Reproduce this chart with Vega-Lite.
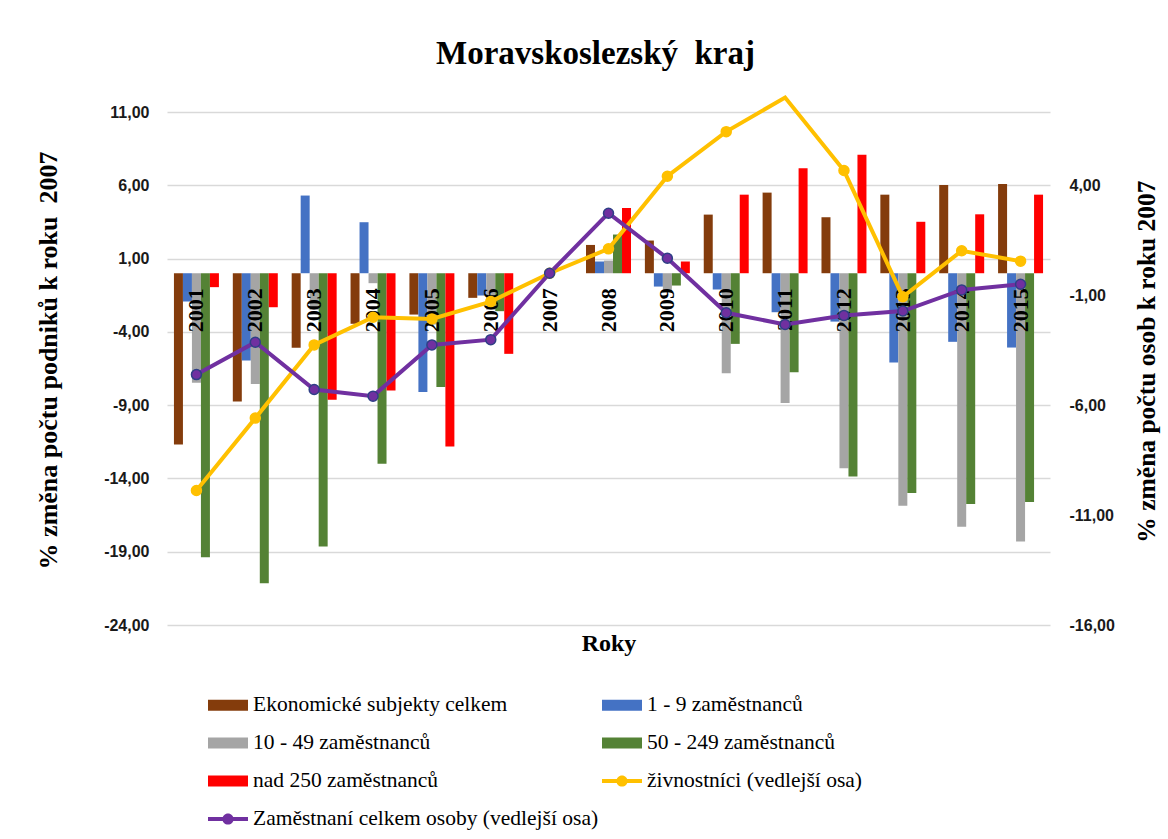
{
  "$schema": "https://vega.github.io/schema/vega-lite/v6.json",
  "width": 883,
  "height": 513,
  "autosize": {"type": "none"},
  "padding": {"left": 167, "top": 112, "right": 118, "bottom": 214},
  "background": "white",
  "title": {
    "text": "Moravskoslezský\u00a0 kraj",
    "font": "Liberation Serif",
    "fontSize": 33,
    "fontWeight": "bold",
    "color": "#000000",
    "anchor": "middle",
    "offset": 19,
    "dx": -13
  },
  "datasets": {
    "bars": [
      {"year": "2001", "series": "Ekonomické subjekty celkem", "value": -11.69},
      {"year": "2001", "series": "1 - 9 zaměstnanců", "value": -1.93},
      {"year": "2001", "series": "10 - 49 zaměstnanců", "value": -7.48},
      {"year": "2001", "series": "50 - 249 zaměstnanců", "value": -19.37},
      {"year": "2001", "series": "nad 250 zaměstnanců", "value": -0.95},
      {"year": "2002", "series": "Ekonomické subjekty celkem", "value": -8.75},
      {"year": "2002", "series": "1 - 9 zaměstnanců", "value": -5.96},
      {"year": "2002", "series": "10 - 49 zaměstnanců", "value": -7.55},
      {"year": "2002", "series": "50 - 249 zaměstnanců", "value": -21.15},
      {"year": "2002", "series": "nad 250 zaměstnanců", "value": -2.32},
      {"year": "2003", "series": "Ekonomické subjekty celkem", "value": -5.09},
      {"year": "2003", "series": "1 - 9 zaměstnanců", "value": 5.3},
      {"year": "2003", "series": "10 - 49 zaměstnanců", "value": -2.5},
      {"year": "2003", "series": "50 - 249 zaměstnanců", "value": -18.64},
      {"year": "2003", "series": "nad 250 zaměstnanců", "value": -8.64},
      {"year": "2004", "series": "Ekonomické subjekty celkem", "value": -3.45},
      {"year": "2004", "series": "1 - 9 zaměstnanců", "value": 3.48},
      {"year": "2004", "series": "10 - 49 zaměstnanců", "value": -0.68},
      {"year": "2004", "series": "50 - 249 zaměstnanců", "value": -13.0},
      {"year": "2004", "series": "nad 250 zaměstnanců", "value": -8.0},
      {"year": "2005", "series": "Ekonomické subjekty celkem", "value": -2.82},
      {"year": "2005", "series": "1 - 9 zaměstnanců", "value": -8.11},
      {"year": "2005", "series": "10 - 49 zaměstnanců", "value": -3.5},
      {"year": "2005", "series": "50 - 249 zaměstnanců", "value": -7.77},
      {"year": "2005", "series": "nad 250 zaměstnanců", "value": -11.82},
      {"year": "2006", "series": "Ekonomické subjekty celkem", "value": -1.68},
      {"year": "2006", "series": "1 - 9 zaměstnanců", "value": -1.52},
      {"year": "2006", "series": "10 - 49 zaměstnanců", "value": -2.5},
      {"year": "2006", "series": "50 - 249 zaměstnanců", "value": -2.59},
      {"year": "2006", "series": "nad 250 zaměstnanců", "value": -5.5},
      {"year": "2007", "series": "Ekonomické subjekty celkem", "value": 0},
      {"year": "2007", "series": "1 - 9 zaměstnanců", "value": 0},
      {"year": "2007", "series": "10 - 49 zaměstnanců", "value": 0},
      {"year": "2007", "series": "50 - 249 zaměstnanců", "value": 0},
      {"year": "2007", "series": "nad 250 zaměstnanců", "value": 0},
      {"year": "2008", "series": "Ekonomické subjekty celkem", "value": 1.93},
      {"year": "2008", "series": "1 - 9 zaměstnanců", "value": 0.8},
      {"year": "2008", "series": "10 - 49 zaměstnanců", "value": 0.86},
      {"year": "2008", "series": "50 - 249 zaměstnanců", "value": 2.64},
      {"year": "2008", "series": "nad 250 zaměstnanců", "value": 4.45},
      {"year": "2009", "series": "Ekonomické subjekty celkem", "value": 2.23},
      {"year": "2009", "series": "1 - 9 zaměstnanců", "value": -0.91},
      {"year": "2009", "series": "10 - 49 zaměstnanců", "value": -1.3},
      {"year": "2009", "series": "50 - 249 zaměstnanců", "value": -0.84},
      {"year": "2009", "series": "nad 250 zaměstnanců", "value": 0.8},
      {"year": "2010", "series": "Ekonomické subjekty celkem", "value": 4.0},
      {"year": "2010", "series": "1 - 9 zaměstnanců", "value": -1.11},
      {"year": "2010", "series": "10 - 49 zaměstnanců", "value": -6.82},
      {"year": "2010", "series": "50 - 249 zaměstnanců", "value": -4.82},
      {"year": "2010", "series": "nad 250 zaměstnanců", "value": 5.36},
      {"year": "2011", "series": "Ekonomické subjekty celkem", "value": 5.5},
      {"year": "2011", "series": "1 - 9 zaměstnanců", "value": -2.66},
      {"year": "2011", "series": "10 - 49 zaměstnanců", "value": -8.86},
      {"year": "2011", "series": "50 - 249 zaměstnanců", "value": -6.75},
      {"year": "2011", "series": "nad 250 zaměstnanců", "value": 7.16},
      {"year": "2012", "series": "Ekonomické subjekty celkem", "value": 3.82},
      {"year": "2012", "series": "1 - 9 zaměstnanců", "value": -3.3},
      {"year": "2012", "series": "10 - 49 zaměstnanců", "value": -13.3},
      {"year": "2012", "series": "50 - 249 zaměstnanců", "value": -13.86},
      {"year": "2012", "series": "nad 250 zaměstnanců", "value": 8.09},
      {"year": "2013", "series": "Ekonomické subjekty celkem", "value": 5.36},
      {"year": "2013", "series": "1 - 9 zaměstnanců", "value": -6.09},
      {"year": "2013", "series": "10 - 49 zaměstnanců", "value": -15.86},
      {"year": "2013", "series": "50 - 249 zaměstnanců", "value": -15.0},
      {"year": "2013", "series": "nad 250 zaměstnanců", "value": 3.51},
      {"year": "2014", "series": "Ekonomické subjekty celkem", "value": 6.02},
      {"year": "2014", "series": "1 - 9 zaměstnanců", "value": -4.68},
      {"year": "2014", "series": "10 - 49 zaměstnanců", "value": -17.3},
      {"year": "2014", "series": "50 - 249 zaměstnanců", "value": -15.74},
      {"year": "2014", "series": "nad 250 zaměstnanců", "value": 4.02},
      {"year": "2015", "series": "Ekonomické subjekty celkem", "value": 6.09},
      {"year": "2015", "series": "1 - 9 zaměstnanců", "value": -5.07},
      {"year": "2015", "series": "10 - 49 zaměstnanců", "value": -18.3},
      {"year": "2015", "series": "50 - 249 zaměstnanců", "value": -15.6},
      {"year": "2015", "series": "nad 250 zaměstnanců", "value": 5.36}
    ],
    "lines": [
      {"year": "2001", "series": "živnostníci (vedlejší osa)", "value": -9.88},
      {"year": "2002", "series": "živnostníci (vedlejší osa)", "value": -6.59},
      {"year": "2003", "series": "živnostníci (vedlejší osa)", "value": -3.26},
      {"year": "2004", "series": "živnostníci (vedlejší osa)", "value": -2.0},
      {"year": "2005", "series": "živnostníci (vedlejší osa)", "value": -2.08},
      {"year": "2006", "series": "živnostníci (vedlejší osa)", "value": -1.29},
      {"year": "2007", "series": "živnostníci (vedlejší osa)", "value": 0},
      {"year": "2008", "series": "živnostníci (vedlejší osa)", "value": 1.11},
      {"year": "2009", "series": "živnostníci (vedlejší osa)", "value": 4.41},
      {"year": "2010", "series": "živnostníci (vedlejší osa)", "value": 6.44},
      {"year": "2011", "series": "živnostníci (vedlejší osa)", "value": 7.99},
      {"year": "2012", "series": "živnostníci (vedlejší osa)", "value": 4.67},
      {"year": "2013", "series": "živnostníci (vedlejší osa)", "value": -1.07},
      {"year": "2014", "series": "živnostníci (vedlejší osa)", "value": 1.02},
      {"year": "2015", "series": "živnostníci (vedlejší osa)", "value": 0.55},
      {"year": "2001", "series": "Zaměstnaní celkem osoby (vedlejší osa)", "value": -4.61},
      {"year": "2002", "series": "Zaměstnaní celkem osoby (vedlejší osa)", "value": -3.14},
      {"year": "2003", "series": "Zaměstnaní celkem osoby (vedlejší osa)", "value": -5.29},
      {"year": "2004", "series": "Zaměstnaní celkem osoby (vedlejší osa)", "value": -5.59},
      {"year": "2005", "series": "Zaměstnaní celkem osoby (vedlejší osa)", "value": -3.26},
      {"year": "2006", "series": "Zaměstnaní celkem osoby (vedlejší osa)", "value": -3.02},
      {"year": "2007", "series": "Zaměstnaní celkem osoby (vedlejší osa)", "value": 0},
      {"year": "2008", "series": "Zaměstnaní celkem osoby (vedlejší osa)", "value": 2.73},
      {"year": "2009", "series": "Zaměstnaní celkem osoby (vedlejší osa)", "value": 0.68},
      {"year": "2010", "series": "Zaměstnaní celkem osoby (vedlejší osa)", "value": -1.8},
      {"year": "2011", "series": "Zaměstnaní celkem osoby (vedlejší osa)", "value": -2.33},
      {"year": "2012", "series": "Zaměstnaní celkem osoby (vedlejší osa)", "value": -1.92},
      {"year": "2013", "series": "Zaměstnaní celkem osoby (vedlejší osa)", "value": -1.72},
      {"year": "2014", "series": "Zaměstnaní celkem osoby (vedlejší osa)", "value": -0.76},
      {"year": "2015", "series": "Zaměstnaní celkem osoby (vedlejší osa)", "value": -0.5}
    ]
  },
  "encoding": {
    "x": {
      "field": "year",
      "type": "nominal",
      "sort": null,
      "scale": {"paddingInner": 0.236, "paddingOuter": 0.118},
      "axis": {
        "labels": false,
        "ticks": false,
        "domain": false,
        "grid": false,
        "title": "Roky",
        "titleFont": "Liberation Serif",
        "titleFontSize": 24,
        "titleFontWeight": "bold",
        "titleColor": "#000000",
        "titlePadding": 6
      }
    }
  },
  "layer": [
    {
      "layer": [
        {
          "data": {"name": "bars"},
          "mark": {"type": "bar"},
          "encoding": {
            "y": {
              "field": "value",
              "type": "quantitative",
              "scale": {"domain": [-24, 11], "nice": false, "zero": false},
              "axis": {
                "values": [-24, -19, -14, -9, -4, 1, 6, 11],
                "labelExpr": "replace(replace(format(datum.value, '.2f'), '.', ','), '\u2212', '-')",
                "labelFont": "Liberation Sans",
                "labelFontSize": 16,
                "labelFontWeight": "bold",
                "labelColor": "#1a1a1a",
                "labelPadding": 18,
                "ticks": false,
                "domain": false,
                "grid": true,
                "gridColor": "#d9d9d9",
                "gridWidth": 1.3,
                "title": "% změna počtu podniků k roku\u00a0 2007",
                "titleFont": "Liberation Serif",
                "titleFontSize": 26,
                "titleFontWeight": "bold",
                "titleColor": "#000000",
                "titleAngle": 270,
                "titleAlign": "center",
                "titleBaseline": "middle",
                "titleX": -119,
                "titleY": 248
              }
            },
            "xOffset": {
              "field": "series",
              "type": "nominal",
              "sort": ["Ekonomické subjekty celkem", "1 - 9 zaměstnanců", "10 - 49 zaměstnanců", "50 - 249 zaměstnanců", "nad 250 zaměstnanců"],
              "scale": {"paddingInner": 0, "paddingOuter": 0}
            },
            "color": {
              "field": "series",
              "type": "nominal",
              "scale": {
                "domain": ["Ekonomické subjekty celkem", "10 - 49 zaměstnanců", "nad 250 zaměstnanců", "Zaměstnaní celkem osoby (vedlejší osa)", "1 - 9 zaměstnanců", "50 - 249 zaměstnanců", "živnostníci (vedlejší osa)"],
                "range": ["#843c0c", "#a5a5a5", "#ff0000", "#7030a0", "#4472c4", "#548235", "#ffc000"]
              },
              "legend": {
                "title": null,
                "orient": "none",
                "legendX": 41,
                "legendY": 573,
                "columns": 2,
                "padding": 0,
                "columnPadding": 3,
                "rowPadding": 7,
                "symbolSize": 1600,
                "labelOffset": 5,
                "labelFont": "Liberation Serif",
                "labelFontSize": 21.5,
                "labelFontWeight": "normal",
                "labelColor": "#000000",
                "labelLimit": 500,
                "encode": {
                  "symbols": {
                    "update": {
                      "shape": {"signal": "indexof(datum.value, 'vedlejší osa') >= 0 ? 'M-1,-0.1H1V0.1H-1Z M0.28,0A0.28,0.28 0 1,1 -0.28,0A0.28,0.28 0 1,1 0.28,0Z' : 'M-1,-0.27H1V0.27H-1Z'"},
                      "fill": {"scale": "color", "field": "value"},
                      "strokeWidth": {"value": 0},
                      "opacity": {"value": 1},
                      "fillOpacity": {"value": 1}
                    }
                  },
                  "labels": {
                    "update": {
                      "font": {"value": "Liberation Serif"},
                      "fontSize": {"value": 21.5}
                    }
                  }
                }
              }
            }
          }
        },
        {
          "mark": {"type": "rule", "color": "#d9d9d9", "strokeWidth": 1.3},
          "encoding": {"y": {"datum": 0, "type": "quantitative"}, "x": null}
        },
        {
          "data": {"name": "bars"},
          "transform": [{"filter": "datum.series === 'Ekonomické subjekty celkem'"}],
          "mark": {
            "type": "text",
            "angle": 270,
            "align": "right",
            "baseline": "middle",
            "dx": -15,
            "font": "Liberation Serif",
            "fontSize": 22,
            "fontWeight": "bold",
            "color": "#000000"
          },
          "encoding": {
            "y": {"datum": 0, "type": "quantitative"},
            "text": {"field": "year"}
          }
        }
      ]
    },
    {
      "data": {"name": "lines"},
      "layer": [
        {
          "mark": {"type": "line", "strokeWidth": 4, "clip": false},
          "encoding": {
            "y": {
              "field": "value",
              "type": "quantitative",
              "scale": {"domain": [-16, 7.3333], "nice": false, "zero": false},
              "axis": {
                "orient": "right",
                "values": [-16, -11, -6, -1, 4],
                "labelExpr": "replace(replace(format(datum.value, '.2f'), '.', ','), '\u2212', '-')",
                "labelFont": "Liberation Sans",
                "labelFontSize": 16,
                "labelFontWeight": "bold",
                "labelColor": "#1a1a1a",
                "labelPadding": 19,
                "ticks": false,
                "domain": false,
                "grid": false,
                "title": "% změna počtu osob k roku 2007",
                "titleFont": "Liberation Serif",
                "titleFontSize": 25.5,
                "titleFontWeight": "bold",
                "titleColor": "#000000",
                "titleAngle": 270,
                "titleAlign": "center",
                "titleBaseline": "middle",
                "titleX": 96,
                "titleY": 249
              }
            },
            "color": {"field": "series", "type": "nominal"}
          }
        },
        {
          "transform": [{"filter": "datum.value < 7.4"}],
          "mark": {"type": "point", "filled": true, "opacity": 1, "size": 100, "strokeWidth": 1.5},
          "encoding": {
            "y": {"field": "value", "type": "quantitative"},
            "color": {"field": "series", "type": "nominal"},
            "stroke": {
              "condition": {"test": "indexof(datum.series, 'Zaměstnaní') >= 0", "value": "#2f3f86"},
              "value": "#ffc000"
            }
          }
        }
      ]
    }
  ],
  "resolve": {"scale": {"y": "independent"}},
  "config": {
    "view": {"stroke": null},
    "font": "Liberation Serif",
    "legend": {"labelFont": "Liberation Serif", "labelFontSize": 21.5}
  }
}
